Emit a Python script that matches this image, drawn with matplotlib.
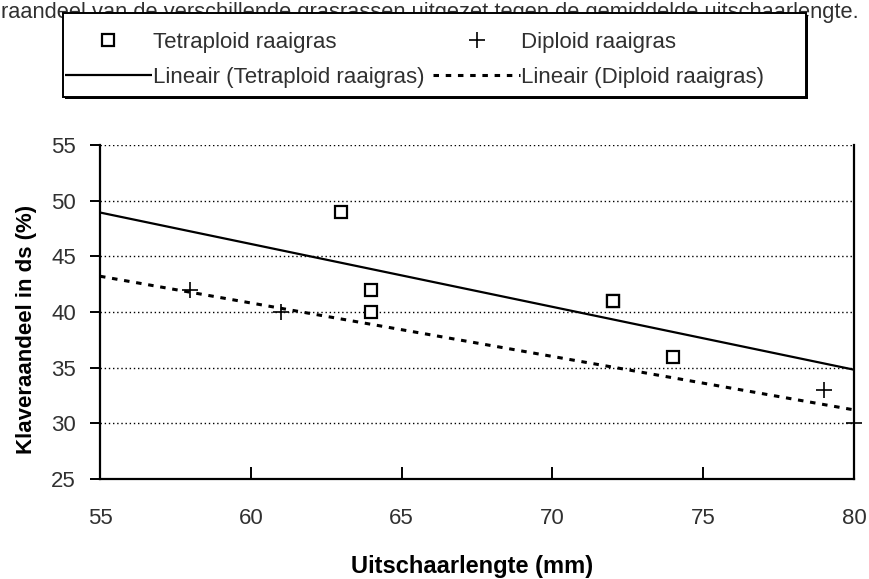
import matplotlib
matplotlib.use("Agg")
import matplotlib.pyplot as plt
from matplotlib.patches import Rectangle
import numpy as np

# ---- data ----
tetra_x = [63, 64, 64, 72, 72, 74]
tetra_y = [49, 42, 40, 41, 41, 36]
diplo_x = [58, 61, 79, 80]
diplo_y = [42, 40, 33, 30]
x_ticks = [55, 60, 65, 70, 75, 80]
y_ticks = [25, 30, 35, 40, 45, 50, 55]
title_text = "raandeel van de verschillende grasrassen uitgezet tegen de gemiddelde uitschaarlengte."
xlabel = "Uitschaarlengte (mm)"
ylabel = "Klaveraandeel in ds (%)"
labels = ["Tetraploid raaigras", "Diploid raaigras",
          "Lineair (Tetraploid raaigras)", "Lineair (Diploid raaigras)"]

plt.rcParams['font.family'] = ['Liberation Sans', 'DejaVu Sans']
FS = 16
TXT = '#303030'

W, H = 869, 579
fig = plt.figure(figsize=(W / 100, H / 100), dpi=100)
ax = fig.add_axes([100 / W, 1 - 479 / H, (854 - 100) / W, (479 - 145) / H])

ax.set_xlim(55, 80)
ax.set_ylim(25, 55)

# gridlines
for yv in y_ticks[1:]:
    ax.axhline(yv, color='black', lw=1.0, linestyle=(0, (1, 2)), zorder=1)

# trend lines from least squares fits
xx = np.array([55, 80])
pt = np.polyfit(tetra_x, tetra_y, 1)
pd_ = np.polyfit(diplo_x, diplo_y, 1)
l1, = ax.plot(xx, np.polyval(pt, xx), color='black', lw=1.6, zorder=3,
              solid_capstyle='butt')
l2, = ax.plot(xx, np.polyval(pd_, xx), color='black', lw=2.2,
              linestyle=(0, (1.8, 2.2)), zorder=3)

s1, = ax.plot(tetra_x, tetra_y, linestyle='none', marker='s', markersize=9,
              markerfacecolor='white', markeredgecolor='black', markeredgewidth=1.6,
              zorder=4, clip_on=False)
s2, = ax.plot(diplo_x, diplo_y, linestyle='none', marker='+', markersize=11,
              markeredgecolor='black', markeredgewidth=1.2, zorder=4, clip_on=False)

ax.spines['top'].set_visible(False)
for side in ['left', 'bottom', 'right']:
    ax.spines[side].set_linewidth(1.6)

ax.set_xticks(x_ticks)
ax.set_yticks(y_ticks)
ax.tick_params(axis='x', direction='in', length=9, width=1.4, pad=21,
               labelsize=FS, labelcolor=TXT)
ax.tick_params(axis='y', direction='out', length=7.2, width=1.4, pad=10,
               labelsize=FS, labelcolor=TXT)

ax.set_xlabel(xlabel, fontsize=17, fontweight='bold', color='black')
ax.xaxis.set_label_coords((472 - 100) / 754, (479 - 555) / 334)
ax.set_ylabel(ylabel, fontsize=16, fontweight='bold', color='black')
ax.yaxis.set_label_coords((37 - 100) / 754, (479 - 329) / 334)

fig.text(1 / W, 1 - 18 / H, title_text, ha='left', va='baseline',
         fontsize=15.75, color=TXT, zorder=1)

# legend frame (with a small shadow)
bx0, by0, bx1, by1 = 63, 13, 806, 97
shadow = Rectangle((bx0 / W + 2 / W, 1 - by1 / H - 2 / H), (bx1 - bx0) / W, (by1 - by0) / H,
                   transform=fig.transFigure, facecolor='black', edgecolor='none',
                   zorder=5)
frame = Rectangle((bx0 / W, 1 - by1 / H), (bx1 - bx0) / W, (by1 - by0) / H,
                  transform=fig.transFigure, facecolor='white', edgecolor='black',
                  lw=1.4, zorder=6)
fig.add_artist(shadow)
fig.add_artist(frame)

leg = fig.legend([s1, l1, s2, l2], [labels[0], labels[2], labels[1], labels[3]],
                 ncol=2, loc='upper left', bbox_to_anchor=(65 / W, 1 - 32 / H),
                 frameon=False, fontsize=FS, labelcolor=TXT,
                 handlelength=3.9, handletextpad=0.05, columnspacing=0.4,
                 borderpad=0, labelspacing=0.63, borderaxespad=0)
leg.set_zorder(7)

fig.savefig('out.png', dpi=100)
